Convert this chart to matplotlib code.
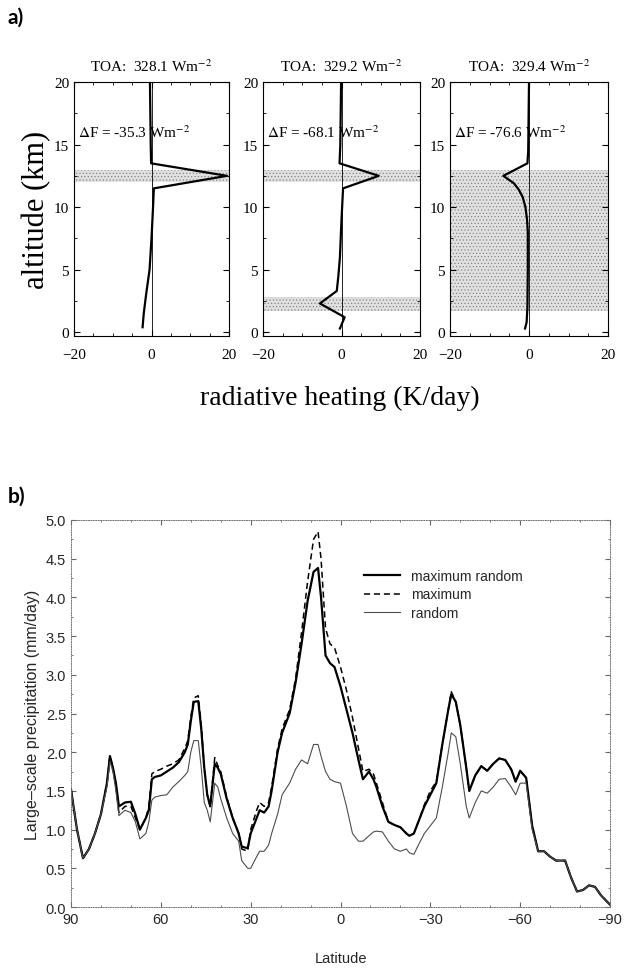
import matplotlib
matplotlib.use('Agg')
import matplotlib.pyplot as plt
import numpy as np

plt.rcParams['hatch.linewidth'] = 0.45
plt.rcParams['mathtext.fontset'] = 'stix'


# panel a: radiative heating profiles (K/day) vs altitude (km)
titles = ['TOA:  328.1 Wm$^{-2}$', 'TOA:  329.2 Wm$^{-2}$', 'TOA:  329.4 Wm$^{-2}$']
dF_labels = ['$\\Delta$F = -35.3 Wm$^{-2}$', '$\\Delta$F = -68.1 Wm$^{-2}$', '$\\Delta$F = -76.6 Wm$^{-2}$']

heat1 = [-2.3, -2.0, -1.4, -0.5, 0.0, 0.4, 0.6, 19.5, -0.1, -0.2, -0.4]
alt1 = [0.4, 1.5, 3.0, 5.0, 7.5, 10.0, 11.5, 12.5, 13.5, 15.0, 20.0]

heat2 = [-0.4, 0.8, -5.5, -1.2, -0.8, -0.4, 0.0, 0.4, 9.5, -0.5, -0.3, -0.1]
alt2 = [0.3, 1.2, 2.3, 3.3, 4.5, 6.0, 9.0, 11.5, 12.5, 13.5, 15.0, 20.0]

heat3 = [-1.0, -0.6, -0.4, -0.3, -0.3, -0.5, -0.9, -1.6, -2.6, -3.8, -6.5, -0.4, -0.2, 0.0]
alt3 = [0.3, 0.8, 2.0, 5.0, 8.0, 9.0, 10.0, 10.8, 11.4, 11.9, 12.5, 13.5, 14.5, 20.0]

# cloud layers (km)
clouds1 = [(12.0, 13.0)]
clouds2 = [(12.0, 13.0), (1.7, 2.8)]
clouds3 = [(1.7, 13.0)]

# panel b: zonal mean large-scale precipitation (mm/day)
lat = [90, 88, 86, 84, 82, 80, 78, 77, 76, 75, 74, 72, 70, 68.5, 67, 65, 64, 63, 62, 60,
       58, 56, 54, 52, 51, 50, 49, 47.5, 46.5, 45.5, 44.5, 43.5, 42, 41, 40, 38, 36, 34, 33, 31,
       30, 28, 27, 25.5, 24, 23, 21, 19.5, 17, 15, 13, 11, 9, 7.5, 6.5, 5, 3.5, 2, 0, -2,
       -4, -6, -7.5, -9.5, -11, -12, -14, -16, -18, -20, -22, -23, -24.5, -26, -28, -30, -32, -34, -36, -37,
       -38.5, -40, -42, -43, -45, -47, -49, -51, -53, -55, -57, -58.5, -60, -62, -64, -66, -68, -70, -72, -75,
       -77, -79, -81, -83, -85, -87, -90]

max_random = [1.52, 1.0, 0.63, 0.75, 0.95, 1.2, 1.6, 1.95, 1.8, 1.6, 1.3, 1.35, 1.36, 1.2, 1.0, 1.15, 1.25, 1.65, 1.68, 1.7,
              1.75, 1.8, 1.87, 2.0, 2.1, 2.4, 2.65, 2.66, 2.3, 1.8, 1.45, 1.3, 1.85, 1.8, 1.72, 1.4, 1.15, 0.95, 0.78, 0.76,
              0.95, 1.15, 1.25, 1.22, 1.3, 1.5, 2.0, 2.25, 2.5, 2.9, 3.4, 3.95, 4.33, 4.38, 4.0, 3.25, 3.15, 3.1, 2.85, 2.55,
              2.25, 1.9, 1.65, 1.75, 1.65, 1.55, 1.3, 1.1, 1.06, 1.03, 0.95, 0.92, 0.95, 1.1, 1.3, 1.45, 1.6, 2.1, 2.55, 2.75,
              2.65, 2.35, 1.8, 1.5, 1.7, 1.82, 1.76, 1.85, 1.92, 1.9, 1.78, 1.62, 1.76, 1.67, 1.05, 0.72, 0.72, 0.65, 0.6, 0.6,
              0.38, 0.2, 0.22, 0.28, 0.26, 0.15, 0.03]

maximum = [1.52, 1.0, 0.63, 0.75, 0.95, 1.2, 1.6, 1.95, 1.8, 1.55, 1.22, 1.3, 1.3, 1.15, 1.0, 1.15, 1.3, 1.72, 1.75, 1.78,
           1.82, 1.85, 1.9, 2.05, 2.15, 2.45, 2.7, 2.73, 2.35, 1.8, 1.45, 1.3, 1.93, 1.83, 1.75, 1.42, 1.15, 0.95, 0.75, 0.72,
           1.0, 1.25, 1.35, 1.3, 1.35, 1.55, 2.05, 2.3, 2.55, 2.95, 3.55, 4.2, 4.75, 4.85, 4.5, 3.6, 3.4, 3.35, 3.1, 2.8,
           2.45, 2.05, 1.75, 1.78, 1.72, 1.6, 1.35, 1.1, 1.06, 1.03, 0.95, 0.92, 0.95, 1.1, 1.32, 1.5, 1.62, 2.1, 2.55, 2.78,
           2.65, 2.35, 1.8, 1.5, 1.7, 1.82, 1.76, 1.85, 1.92, 1.9, 1.78, 1.62, 1.76, 1.67, 1.05, 0.72, 0.72, 0.65, 0.6, 0.6,
           0.38, 0.2, 0.22, 0.28, 0.26, 0.15, 0.03]

random_ov = [1.52, 1.0, 0.63, 0.75, 0.95, 1.2, 1.55, 1.88, 1.75, 1.5, 1.18, 1.25, 1.22, 1.1, 0.88, 0.95, 1.1, 1.38, 1.42, 1.44,
             1.45, 1.55, 1.62, 1.7, 1.75, 2.0, 2.15, 2.15, 1.8, 1.35, 1.25, 1.1, 1.6, 1.55, 1.4, 1.15, 0.95, 0.85, 0.6, 0.5,
             0.5, 0.65, 0.72, 0.72, 0.8, 0.95, 1.2, 1.45, 1.6, 1.78, 1.9, 1.85, 2.1, 2.1, 1.95, 1.75, 1.65, 1.62, 1.6, 1.3,
             0.95, 0.85, 0.85, 0.92, 0.97, 0.98, 0.97, 0.85, 0.75, 0.72, 0.75, 0.7, 0.68, 0.8, 0.95, 1.05, 1.15, 1.55, 2.0, 2.25,
             2.2, 1.85, 1.3, 1.15, 1.35, 1.5, 1.47, 1.55, 1.65, 1.66, 1.55, 1.45, 1.6, 1.6, 1.0, 0.72, 0.72, 0.65, 0.6, 0.6,
             0.38, 0.2, 0.22, 0.28, 0.26, 0.15, 0.03]


fig = plt.figure(figsize=(6.28, 9.78), dpi=100)

serif = 'Liberation Serif'
lefts = [74, 263, 450]
widths = [155, 157, 158]
profiles = [(heat1, alt1, clouds1), (heat2, alt2, clouds2), (heat3, alt3, clouds3)]

for i in range(3):
    ax = fig.add_axes([lefts[i] / 628, 1 - 337 / 978, widths[i] / 628, 254 / 978])
    h, a, cl = profiles[i]
    for lo, hi in cl:
        ax.axhspan(lo, hi, facecolor='0.88', edgecolor='0.5', hatch='.....', lw=0)
    ax.axvline(0, color='k', lw=0.6)
    ax.plot(h, a, color='k', lw=1.6)
    ax.set_xlim(-20, 20)
    ax.set_ylim(-0.3, 20)
    ax.set_xticks([-20, 0, 20])
    ax.set_xticks(np.arange(-20, 21, 5), minor=True)
    ax.set_yticks([0, 5, 10, 15, 20])
    ax.set_yticks(np.arange(0, 20.1, 2.5), minor=True)
    ax.tick_params(which='both', direction='in', top=True, right=True)
    ax.tick_params(which='major', length=4, labelsize=11)
    ax.tick_params(which='minor', length=2.5)
    ax.tick_params(axis='x', pad=9)
    for lab in ax.get_xticklabels() + ax.get_yticklabels():
        lab.set_family(serif)
    ax.set_xticklabels(['\u221220', '0', '20'], family=serif)
    ax.set_title(titles[i], fontsize=11, family=serif, pad=8)
    ax.text(-19, 16.0, dF_labels[i], fontsize=11, family=serif, va='center')
    if i == 0:
        ax.set_ylabel('altitude (km)', fontsize=22, family=serif, labelpad=2)

fig.text(340 / 628, 1 - 398 / 978, 'radiative heating (K/day)', fontsize=20, family=serif,
         ha='center', va='center')

fig.text(8 / 628, 1 - 18 / 978, 'a)', fontsize=15, fontweight='bold', family='Lato', va='center')
fig.text(8 / 628, 1 - 497 / 978, 'b)', fontsize=15, fontweight='bold', family='Lato', va='center')

# panel b
sans = 'Liberation Sans'
axb = fig.add_axes([71 / 628, 1 - 908 / 978, 539 / 628, 387 / 978])
axb.plot(lat, max_random, color='k', lw=1.6, label='maximum random')
axb.plot(lat, maximum, color='k', lw=1.1, ls=(0, (4, 2.5)), label='maximum')
axb.plot(lat, random_ov, color='0.3', lw=0.8, label='random')
axb.set_xlim(90, -90)
axb.set_ylim(0, 5)
axb.set_xticks([90, 60, 30, 0, -30, -60, -90])
axb.set_xticklabels(['90', '60', '30', '0', '\u221230', '\u221260', '\u221290'])
axb.set_xticks(np.arange(-90, 91, 10), minor=True)
axb.set_yticks(np.arange(0, 5.01, 0.5))
axb.set_yticks(np.arange(0, 5.01, 0.25), minor=True)
axb.yaxis.set_major_formatter(plt.FormatStrFormatter('%.1f'))
axb.tick_params(which='both', direction='in', top=True, right=True, labelsize=10.5, color='0.4')
axb.tick_params(which='major', length=3.5)
axb.tick_params(which='minor', length=1.5)
for lab in axb.get_xticklabels() + axb.get_yticklabels():
    lab.set_family(sans)
    lab.set_color('0.15')
for sp in axb.spines.values():
    sp.set_linestyle((0, (1, 1.5)))
    sp.set_linewidth(0.7)
    sp.set_color('0.45')
axb.set_xlabel('Latitude', fontsize=10.5, family=sans, color='0.15', labelpad=18)
axb.set_ylabel('Large\u2013scale precipitation (mm/day)', fontsize=11.5, family=sans, color='0.15')
leg = axb.legend(loc='upper left', bbox_to_anchor=(0.52, 0.905), frameon=False,
                 prop={'family': sans, 'size': 10}, handlelength=2.6, handletextpad=0.8,
                 labelspacing=0.3)
for t in leg.get_texts():
    t.set_color('0.15')

fig.savefig('out.png', dpi=100)
